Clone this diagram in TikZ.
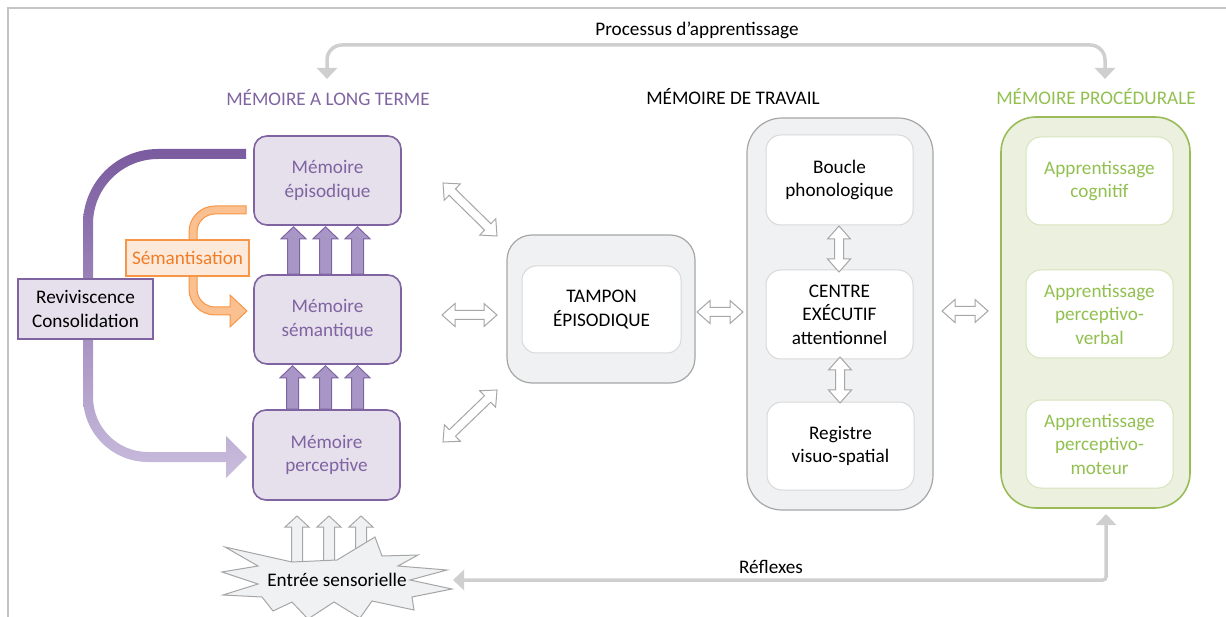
\documentclass[tikz,border=0pt]{standalone}
\usepackage{fontspec}
\setmainfont{Carlito}
\usetikzlibrary{calc,arrows.meta}
\definecolor{pdark}{HTML}{8064A2}
\definecolor{pfill}{HTML}{E5E0EC}
\definecolor{parrow}{HTML}{A796C6}
\definecolor{pgradtop}{HTML}{7A5B9F}
\definecolor{pgradbot}{HTML}{C9BDDD}
\definecolor{gborder}{HTML}{A6A6A6}
\definecolor{gfill}{HTML}{F0F1F2}
\definecolor{ginner}{HTML}{D9D9D9}
\definecolor{glinec}{HTML}{CFCFCF}
\definecolor{frame}{HTML}{C4C4C4}
\definecolor{grn}{HTML}{9BBB59}
\definecolor{grntext}{HTML}{92C050}
\definecolor{grnfill}{HTML}{EBF1DE}
\definecolor{grninner}{HTML}{D7E4BD}
\definecolor{org}{HTML}{F79646}
\definecolor{orgfill}{HTML}{FAC090}
\definecolor{orgbox}{HTML}{FDE9D9}
\definecolor{orgtext}{HTML}{F07D28}
\pgfdeclarelayer{background}
\pgfsetlayers{background,main}
\tikzset{
  txt/.style={font=\fontsize{19.2}{23.5}\selectfont, align=center, inner sep=0pt},
  lbox/.style={txt, draw=pdark, fill=pfill, line width=1.6pt, rounded corners=13pt,
    text=pdark, minimum width=147pt, minimum height=89pt},
  wouter/.style={draw=gborder, fill=gfill, line width=1.2pt},
  winner/.style={txt, draw=ginner, fill=white, line width=1pt, rounded corners=15pt,
    minimum width=147pt, minimum height=89pt},
  pouter/.style={draw=grn, fill=grnfill, line width=1.6pt, rounded corners=35pt},
  pinner/.style={txt, draw=grninner, fill=white, line width=1pt, rounded corners=15pt,
    text=grntext, minimum width=147pt, minimum height=88pt},
  hollow/.style={draw=gborder, fill=white, line width=1pt},
  fat/.style={draw=pdark, fill=parrow, line width=1pt},
  sensarrow/.style={draw=gborder, fill=gfill, line width=1pt},
  greyarrow/.style={draw=glinec, line width=3.5pt,
    arrows={Triangle[width=20pt,length=11pt]-Triangle[width=20pt,length=11pt]}},
}
\newcommand\dblarr[2]{%
  \path ($(#1)!13pt!(#2)$) coordinate (h1) ($(#2)!13pt!(#1)$) coordinate (h2);
  \draw[hollow] (#1) -- ($(h1)!11.5pt!90:(#2)$) -- ($(h1)!4.5pt!90:(#2)$)
    -- ($(h2)!4.5pt!-90:(#1)$) -- ($(h2)!11.5pt!-90:(#1)$) -- (#2)
    -- ($(h2)!11.5pt!90:(#1)$) -- ($(h2)!4.5pt!90:(#1)$)
    -- ($(h1)!4.5pt!-90:(#2)$) -- ($(h1)!11.5pt!-90:(#2)$) -- cycle;}
\newcommand\fatup[3]{%
  \path[fat] let \p1=(#1), \p2=(#2) in
    ({\x1+(#3pt)-6pt},\y1) -- ({\x1+(#3pt)-6pt},{\y2-13pt})
    -- ({\x1+(#3pt)-12.5pt},{\y2-13pt}) -- ({\x1+(#3pt)},{\y2-1pt})
    -- ({\x1+(#3pt)+12.5pt},{\y2-13pt}) -- ({\x1+(#3pt)+6pt},{\y2-13pt})
    -- ({\x1+(#3pt)+6pt},\y1) -- cycle;}
\newcommand\sensup[1]{%
  \path[sensarrow] (#1-5.5,565) -- (#1-5.5,527) -- (#1-12,527) -- (#1,516)
    -- (#1+12,527) -- (#1+5.5,527) -- (#1+5.5,565) -- cycle;}
\begin{document}
\begin{tikzpicture}[x=1pt,y=-1pt]
\useasboundingbox (0,0) rectangle (1226,617);
% frame
\draw[frame, line width=2pt] (8,620) -- (8,8) -- (1230,8);

% titles
\node[txt] (proc) at (697,30) {Processus d’apprentissage};
\node[txt, text=pdark] (tlt) at (328,98) {MÉMOIRE A LONG TERME};
\node[txt] (twm) at (733,97) {MÉMOIRE DE TRAVAIL};
\node[txt, text=grntext] (tpr) at (1096,97) {MÉMOIRE PROCÉDURALE};

% long-term memory boxes
\node[lbox] (epi) at (327.5,180.5) {Mémoire\\épisodique};
\node[lbox] (sem) at (327.5,319.5) {Mémoire\\sémantique};
\node[lbox, minimum height=90pt] (perc) at (326.5,455) {Mémoire\\perceptive};

\node[txt, draw=pdark, fill=pfill, line width=1.3pt, minimum width=135pt, minimum height=60pt]
  (reviv) at (85.5,309) {Reviviscence\\Consolidation};
\node[txt, draw=org, fill=orgbox, line width=1.2pt, text=orgtext, minimum width=123pt, minimum height=36pt]
  (seman) at (187.5,258) {Sémantisation};

\begin{pgfonlayer}{background}
  % gradient purple arrow
  \shade[top color=pgradtop, bottom color=pgradbot]
    (246,149) -- (158,149) arc[start angle=270,end angle=180,radius=75]
    -- (83,397) arc[start angle=180,end angle=90,radius=65]
    -- (226,462) -- (226,478) -- (247,457) -- (226,436) -- (226,452)
    -- (148,452) arc[start angle=90,end angle=180,radius=55]
    -- (93,224) arc[start angle=180,end angle=270,radius=65]
    -- (246,159) -- cycle;
  % orange arrow
  \draw[org, fill=orgfill, line width=1pt, line join=miter]
    (246,206) -- (215,206) arc[start angle=270,end angle=180,radius=26]
    -- (189,289) arc[start angle=180,end angle=90,radius=26]
    -- (230,315) -- (230,327) -- (247,311) -- (230,295) -- (230,307)
    -- (215,307) arc[start angle=90,end angle=180,radius=18]
    -- (197,232) arc[start angle=180,end angle=270,radius=18]
    -- (246,214) -- cycle;
\end{pgfonlayer}

% fat purple arrows
\fatup{sem.north}{epi.south}{-34}
\fatup{sem.north}{epi.south}{-2}
\fatup{sem.north}{epi.south}{30}
\fatup{perc.north}{sem.south}{-34}
\fatup{perc.north}{sem.south}{-1}
\fatup{perc.north}{sem.south}{31}

% sensory input
\sensup{297}
\sensup{329}
\sensup{361}
\draw[draw=gborder, fill=gfill, line width=1pt]
  (225,547) -- (292,562) -- (337,560) -- (375,537) -- (382,556) -- (418,555)
  -- (398,566) -- (447,570) -- (410,580) -- (452,589) -- (412,597) -- (414,610)
  -- (372,601) -- (360,618) -- (334,602) -- (308,619) -- (292,602) -- (273,611)
  -- (262,597) -- (223,595) -- (258,584) -- (222,572) -- (258,566) -- cycle;
\node[txt] (sens) at (337,580) {Entrée sensorielle};

% episodic buffer
\node[wouter, rounded corners=25pt, minimum width=188pt, minimum height=148pt] (tamp) at (601,309) {};
\node[winner, rounded corners=14pt, minimum width=159pt, minimum height=87pt] (tampi) at (601.5,309.5) {TAMPON\\ÉPISODIQUE};

% working memory
\node[wouter, rounded corners=35pt, minimum width=186pt, minimum height=392pt] (wm) at (840,314) {};
\node[winner, minimum height=90pt] (boucle) at (839.5,180) {Boucle\\phonologique};
\node[winner] (centre) at (839.5,314.5) {CENTRE\\EXÉCUTIF\\attentionnel};
\node[winner, minimum height=88pt] (regis) at (840.5,446) {Registre\\visuo-spatial};

% procedural memory
\node[pouter, minimum width=189pt, minimum height=391pt] (pm) at (1095.5,312.5) {};
\node[pinner] (cog) at (1099.5,181) {Apprentissage\\cognitif};
\node[pinner] (verb) at (1099.5,314) {Apprentissage\\perceptivo-\\verbal};
\node[pinner] (mot) at (1099.5,444) {Apprentissage\\perceptivo-\\moteur};

% hollow double arrows
\coordinate (d1a) at (443,183); \coordinate (d1b) at (497,236);
\coordinate (d2a) at (442,315); \coordinate (d2b) at (497,315);
\coordinate (d3a) at (443,442); \coordinate (d3b) at (497,390);
\coordinate (d4a) at (697,312); \coordinate (d4b) at (743,312);
\coordinate (d5a) at (942,311); \coordinate (d5b) at (988,311);
\coordinate (d6a) at (839,226); \coordinate (d6b) at (839,272);
\coordinate (d7a) at (840,357); \coordinate (d7b) at (840,403);
\dblarr{d1a}{d1b}
\dblarr{d2a}{d2b}
\dblarr{d3a}{d3b}
\dblarr{d4a}{d4b}
\dblarr{d5a}{d5b}
\dblarr{d6a}{d6b}
\dblarr{d7a}{d7b}

% grey connectors
\coordinate (pa1) at (327,79);
\coordinate (pa2) at (1105,79);
\draw[greyarrow, rounded corners=15pt] (pa1) -- ++(0,-34) -| (pa2);
\coordinate (rf1) at (1106,514);
\coordinate (rf2) at (453,580);
\draw[greyarrow, rounded corners=3pt] (rf1) |- (rf2);
\node[txt] (refl) at (771,567) {Réflexes};
\end{tikzpicture}
\end{document}
